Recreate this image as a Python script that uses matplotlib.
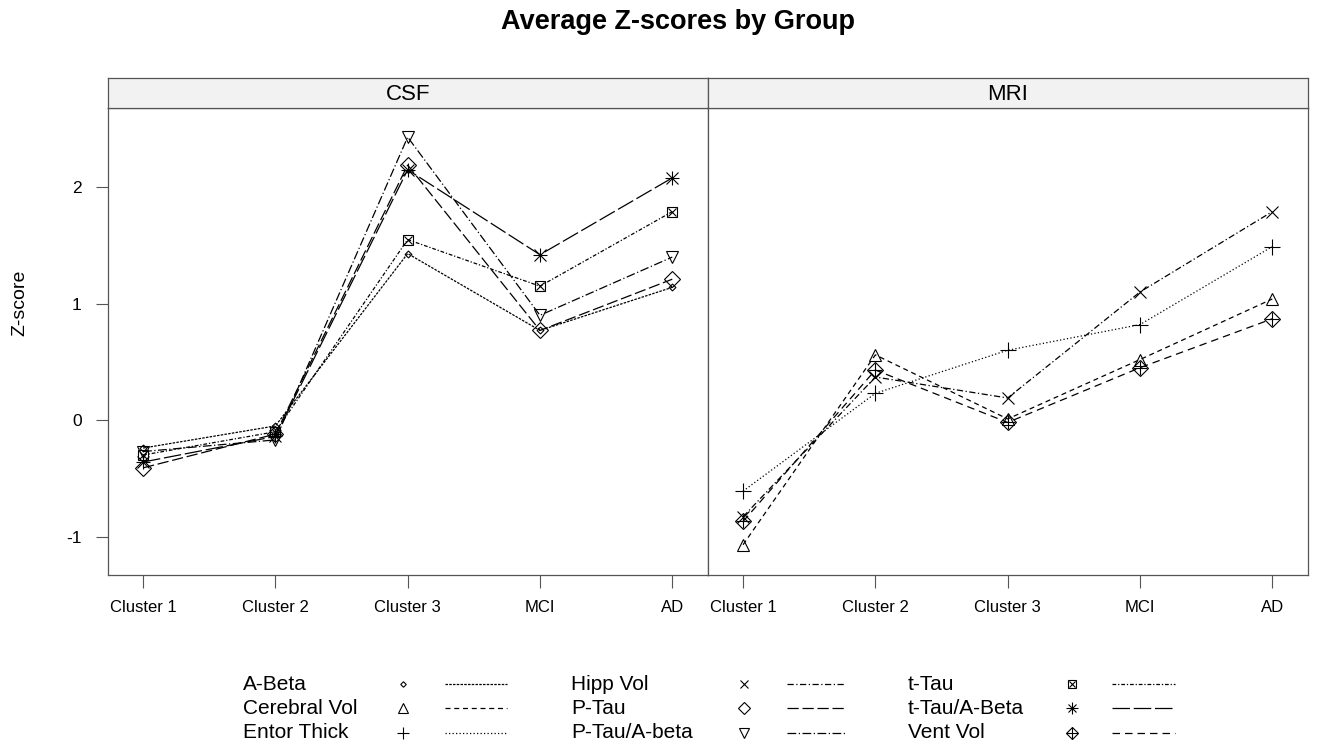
import matplotlib
matplotlib.use("Agg")
import matplotlib.pyplot as plt
from matplotlib.lines import Line2D

plt.rcParams['font.family'] = ['Liberation Sans', 'DejaVu Sans']

groups = ['Cluster 1', 'Cluster 2', 'Cluster 3', 'MCI', 'AD']

# CSF panel
a_beta = [-0.24, -0.05, 1.43, 0.77, 1.14]
p_tau = [-0.41, -0.12, 2.19, 0.77, 1.21]
p_tau_abeta = [-0.27, -0.17, 2.43, 0.90, 1.40]
t_tau = [-0.30, -0.10, 1.55, 1.15, 1.79]
t_tau_abeta = [-0.36, -0.14, 2.15, 1.42, 2.08]

# MRI panel
cerebral_vol = [-1.07, 0.56, 0.01, 0.52, 1.04]
entor_thick = [-0.61, 0.23, 0.60, 0.82, 1.49]
hipp_vol = [-0.83, 0.37, 0.19, 1.10, 1.79]
vent_vol = [-0.87, 0.43, -0.02, 0.45, 0.87]

# name: (list of (marker, size), dash pattern)
styles = {
    'A-Beta': ([('D', 3.5)], (2, 1)),
    'Cerebral Vol': ([('^', 9)], (4, 3)),
    'Entor Thick': ([('+', 11)], (1, 1.8)),
    'Hipp Vol': ([('x', 8)], (5, 2, 1, 2)),
    'P-Tau': ([('D', 8)], (9, 3)),
    'P-Tau/A-beta': ([('v', 9)], (7, 2, 1, 2)),
    't-Tau': ([('s', 7), ('x', 6)], (3, 1.5, 1, 1.5)),
    't-Tau/A-Beta': ([('+', 10), ('x', 8)], (14, 3)),
    'Vent Vol': ([('D', 8), ('+', 10)], (6, 4)),
}

csf = {'A-Beta': a_beta, 'P-Tau': p_tau, 'P-Tau/A-beta': p_tau_abeta,
       't-Tau': t_tau, 't-Tau/A-Beta': t_tau_abeta}
mri = {'Cerebral Vol': cerebral_vol, 'Entor Thick': entor_thick,
       'Hipp Vol': hipp_vol, 'Vent Vol': vent_vol}

W, H = 1318, 749
fig = plt.figure(figsize=(W / 100, H / 100), dpi=100)

frame_col = '#555555'

def draw_series(ax, name, vals):
    marks, dash = styles[name]
    xs = range(len(vals))
    ax.plot(xs, vals, color='black', lw=0.9, dashes=dash)
    for m, s in marks:
        ax.plot(xs, vals, linestyle='none', marker=m, ms=s, mfc='none',
                mec='black', mew=0.8)

panels = [('CSF', csf, 108), ('MRI', mri, 708)]
for title, data, left in panels:
    ax = fig.add_axes([left / W, 1 - 575 / H, 600 / W, 467 / H])
    for name, vals in data.items():
        draw_series(ax, name, vals)
    ax.set_xlim(-0.265, 4.27)
    ax.set_ylim(-1.33, 2.68)
    ax.set_xticks(range(len(groups)))
    ax.set_xticklabels(groups, fontsize=12)
    ax.tick_params(axis='x', length=9, width=0.8, color=frame_col, pad=9)
    for sp in ax.spines.values():
        sp.set_color(frame_col)
        sp.set_linewidth(0.9)
    if left == 108:
        ax.set_yticks([-1, 0, 1, 2])
        ax.set_yticklabels(['-1', '0', '1', '2'], fontsize=12.5)
        ax.tick_params(axis='y', length=9, width=0.8, color=frame_col, pad=10)
    else:
        ax.set_yticks([])
    # strip
    sax = fig.add_axes([left / W, 1 - 108 / H, 600 / W, 30 / H])
    sax.set_facecolor('#f2f2f2')
    sax.set_xticks([])
    sax.set_yticks([])
    for sp in sax.spines.values():
        sp.set_color(frame_col)
        sp.set_linewidth(0.9)
    sax.text(0.5, 0.45, title, ha='center', va='center', fontsize=16,
             transform=sax.transAxes)

fig.text(20 / W, 1 - 303 / H, 'Z-score', rotation=90, ha='center',
         va='center', fontsize=14)
fig.text(678 / W, 1 - 22 / H, 'Average Z-scores by Group', ha='center',
         va='center', fontsize=19.5, fontweight='bold')

# legend, three columns as in the original
legend_cols = [['A-Beta', 'Cerebral Vol', 'Entor Thick'],
               ['Hipp Vol', 'P-Tau', 'P-Tau/A-beta'],
               ['t-Tau', 't-Tau/A-Beta', 'Vent Vol']]
text_x = [243, 571, 908]
mark_x = [403, 744, 1072]
line_x = [(445, 507), (787, 845), (1112, 1175)]
row_y = [684, 708, 733]
for c, names in enumerate(legend_cols):
    for r, name in enumerate(names):
        y = 1 - row_y[r] / H
        fig.text(text_x[c] / W, y, name, ha='left', va='center', fontsize=15)
        marks, dash = styles[name]
        for m, s in marks:
            fig.add_artist(Line2D([mark_x[c] / W], [y], marker=m,
                                  ms=s * 0.8, mfc='none', mec='black',
                                  mew=0.8, linestyle='none'))
        x0, x1 = line_x[c]
        fig.add_artist(Line2D([x0 / W, x1 / W], [y, y], color='black',
                              lw=0.9, dashes=dash))

fig.savefig('out.png', dpi=100, facecolor='white')
